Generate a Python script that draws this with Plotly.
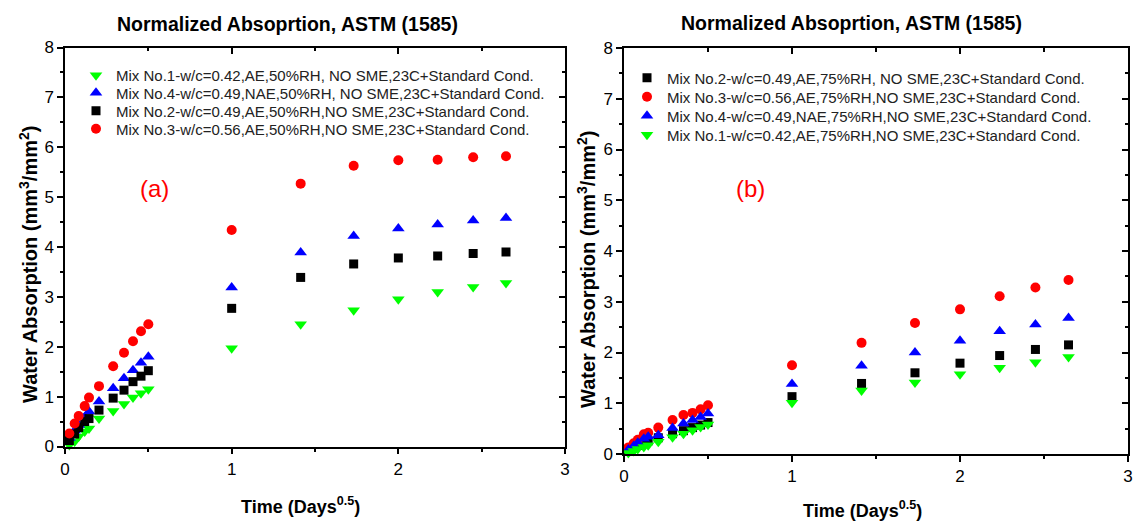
import plotly.graph_objects as go

W, H = 1133, 521

# time points (Days^0.5)
t_early = [0.026, 0.058, 0.082, 0.118, 0.144, 0.204, 0.289, 0.354, 0.408, 0.456, 0.5]
t_late = [1.0, 1.414, 1.732, 2.0, 2.236, 2.449, 2.646]
time_pts = t_early + t_late

# Panel (a) 50% RH
a_mix1 = [0.03, 0.10, 0.20, 0.30, 0.36, 0.56, 0.71, 0.85, 0.98, 1.07, 1.15, 1.97, 2.45, 2.73, 2.95, 3.10, 3.20, 3.28]
a_mix4 = [0.17, 0.32, 0.43, 0.58, 0.70, 0.90, 1.17, 1.37, 1.53, 1.68, 1.80, 3.19, 3.89, 4.22, 4.37, 4.45, 4.53, 4.58]
a_mix2 = [0.12, 0.25, 0.38, 0.50, 0.56, 0.73, 0.97, 1.13, 1.30, 1.41, 1.52, 2.77, 3.39, 3.66, 3.78, 3.82, 3.87, 3.90]
a_mix3 = [0.26, 0.46, 0.61, 0.81, 0.98, 1.21, 1.61, 1.88, 2.11, 2.31, 2.45, 4.34, 5.27, 5.63, 5.74, 5.75, 5.80, 5.82]

# Panel (b) 75% RH
b_mix2 = [0.07, 0.12, 0.17, 0.22, 0.26, 0.32, 0.40, 0.46, 0.52, 0.57, 0.62, 1.13, 1.39, 1.60, 1.79, 1.94, 2.06, 2.15]
b_mix3 = [0.13, 0.21, 0.28, 0.39, 0.42, 0.52, 0.67, 0.77, 0.81, 0.88, 0.96, 1.75, 2.19, 2.58, 2.85, 3.11, 3.28, 3.43]
b_mix4 = [0.09, 0.16, 0.22, 0.30, 0.34, 0.37, 0.51, 0.60, 0.67, 0.73, 0.80, 1.38, 1.74, 2.00, 2.23, 2.42, 2.55, 2.68]
b_mix1 = [0.02, 0.06, 0.10, 0.14, 0.17, 0.24, 0.33, 0.40, 0.47, 0.53, 0.58, 1.01, 1.25, 1.41, 1.57, 1.70, 1.81, 1.91]

names_a = [
    "Mix No.1-w/c=0.42,AE,50%RH, NO SME,23C+Standard Cond.",
    "Mix No.4-w/c=0.49,NAE,50%RH, NO SME,23C+Standard Cond.",
    "Mix No.2-w/c=0.49,AE,50%RH,NO SME,23C+Standard Cond.",
    "Mix No.3-w/c=0.56,AE,50%RH,NO SME,23C+Standard Cond.",
]
names_b = [
    "Mix No.2-w/c=0.49,AE,75%RH, NO SME,23C+Standard Cond.",
    "Mix No.3-w/c=0.56,AE,75%RH,NO SME,23C+Standard Cond.",
    "Mix No.4-w/c=0.49,NAE,75%RH,NO SME,23C+Standard Cond.",
    "Mix No.1-w/c=0.42,AE,75%RH,NO SME,23C+Standard Cond.",
]

title_text = "Normalized Absoprtion, ASTM (1585)"
x_ticks = [0, 1, 2, 3]
y_ticks = [0, 1, 2, 3, 4, 5, 6, 7, 8]

GREEN, BLUE, BLACK, RED = "#00FF00", "#0000FF", "#000000", "#FF0000"
FONT = "Liberation Sans, Arial, sans-serif"

# legend row centres (pixels from top)
legend_rows_a = [75.5, 93.0, 111.0, 129.0]
legend_rows_b = [78.0, 97.0, 116.0, 135.0]


def px_x(p):
    return p / W


def px_y(p):
    return 1 - p / H


def style(sym, color):
    sizes = {"triangle-down": 11, "triangle-up": 11, "square": 9, "circle": 10}
    return dict(symbol=sym, color=color, size=sizes[sym], line=dict(width=0))


fig = go.Figure()
legend_layout = {}
legend_font = dict(family=FONT, size=15, color="#222")


def legend_key(i):
    return "legend" if i == 1 else "legend%d" % i


series_a = [(a_mix1, "triangle-down", GREEN), (a_mix4, "triangle-up", BLUE),
            (a_mix2, "square", BLACK), (a_mix3, "circle", RED)]
series_b = [(b_mix2, "square", BLACK), (b_mix3, "circle", RED),
            (b_mix4, "triangle-up", BLUE), (b_mix1, "triangle-down", GREEN)]

k = 1
for (vals, sym, col), nm, row in zip(series_a, names_a, legend_rows_a):
    lk = legend_key(k)
    fig.add_trace(go.Scatter(x=time_pts, y=vals, mode="markers", name=nm,
                             marker=style(sym, col), xaxis="x", yaxis="y",
                             cliponaxis=False, legend=lk))
    legend_layout[lk] = dict(x=px_x(76), y=px_y(row), xanchor="left", yanchor="middle",
                             bgcolor="rgba(0,0,0,0)", font=legend_font, itemclick=False)
    k += 1

for (vals, sym, col), nm, row in zip(series_b, names_b, legend_rows_b):
    lk = legend_key(k)
    fig.add_trace(go.Scatter(x=time_pts, y=vals, mode="markers", name=nm,
                             marker=style(sym, col), xaxis="x2", yaxis="y2",
                             cliponaxis=False, legend=lk))
    legend_layout[lk] = dict(x=px_x(627), y=px_y(row), xanchor="left", yanchor="middle",
                             bgcolor="rgba(0,0,0,0)", font=legend_font, itemclick=False)
    k += 1

# dummy traces for mirrored (inward) tick axes
for xa, ya in [("x3", "y"), ("x", "y3"), ("x4", "y2"), ("x2", "y4")]:
    fig.add_trace(go.Scatter(x=[None], y=[None], xaxis=xa, yaxis=ya,
                             showlegend=False, hoverinfo="skip"))

dom_ax = [px_x(65), px_x(565)]
dom_ay = [px_y(446.5), px_y(47.5)]
dom_bx = [px_x(624), px_x(1128)]
dom_by = [px_y(454), px_y(48)]

tickfont = dict(family=FONT, size=17, color="black")


def main_axis(domain, anchor, rng, tickvals):
    return dict(domain=domain, anchor=anchor, range=rng, tickvals=tickvals,
                ticks="outside", ticklen=6, tickwidth=1.5, tickcolor="black",
                minor=dict(dtick=0.5, ticks="outside", ticklen=3.5, tickwidth=1.5,
                           tickcolor="black"),
                showline=True, linewidth=1.5, linecolor="black", mirror=True,
                showgrid=False, zeroline=False, tickfont=tickfont, fixedrange=True,
                automargin=False)


def mirror_axis(overlay, anchor, side, rng, tickvals):
    return dict(overlaying=overlay, anchor=anchor, side=side, range=rng,
                tickvals=tickvals, ticks="inside", ticklen=6, tickwidth=1.5,
                tickcolor="black", showticklabels=False, showline=False,
                minor=dict(dtick=0.5, ticks="inside", ticklen=3.5, tickwidth=1.5,
                           tickcolor="black"),
                showgrid=False, zeroline=False, automargin=False)


fig.update_layout(
    width=W, height=H,
    margin=dict(l=0, r=0, t=0, b=0, autoexpand=False),
    paper_bgcolor="white", plot_bgcolor="white",
    font=dict(family=FONT, color="black"),
    showlegend=True,
    xaxis=main_axis(dom_ax, "y", [0, 3], x_ticks),
    yaxis=main_axis(dom_ay, "x", [0, 8], y_ticks),
    xaxis2=main_axis(dom_bx, "y2", [0, 3], x_ticks),
    yaxis2=main_axis(dom_by, "x2", [0, 8], y_ticks),
    xaxis3=mirror_axis("x", "y", "top", [0, 3], x_ticks),
    yaxis3=mirror_axis("y", "x", "right", [0, 8], y_ticks),
    xaxis4=mirror_axis("x2", "y2", "top", [0, 3], x_ticks),
    yaxis4=mirror_axis("y2", "x2", "right", [0, 8], y_ticks),
    **legend_layout,
)

ann = []
ann.append(dict(x=px_x(287), y=px_y(24), text="<b>" + title_text + "</b>"))
ann.append(dict(x=px_x(852), y=px_y(23), text="<b>" + title_text + "</b>"))
for a in ann:
    a.update(xref="paper", yref="paper", showarrow=False, xanchor="center",
             yanchor="middle", font=dict(family=FONT, size=19.5, color="black"))

axis_titles = [
    dict(x=px_x(300), y=px_y(505), text="<b>Time (Days<sup>0.5</sup>)</b>", textangle=0, size=18),
    dict(x=px_x(862), y=px_y(509), text="<b>Time (Days<sup>0.5</sup>)</b>", textangle=0, size=18),
    dict(x=px_x(28), y=px_y(265), text="<b>Water Absorption (mm<sup>3</sup>/mm<sup>2</sup>)</b>", textangle=-90, size=20),
    dict(x=px_x(586), y=px_y(270), text="<b>Water Absorption (mm<sup>3</sup>/mm<sup>2</sup>)</b>", textangle=-90, size=20),
]
for a in axis_titles:
    sz = a.pop("size")
    a.update(xref="paper", yref="paper", showarrow=False, xanchor="center",
             yanchor="middle", font=dict(family=FONT, size=sz, color="black"))
ann += axis_titles

ann.append(dict(x=px_x(138), y=px_y(188), text="(a)", xref="paper", yref="paper",
                showarrow=False, font=dict(family=FONT, size=24, color=RED)))
ann.append(dict(x=px_x(750), y=px_y(188), text="(b)", xref="paper", yref="paper",
                showarrow=False, font=dict(family=FONT, size=24, color=RED)))

fig.update_layout(annotations=ann)

fig.write_html("out.html")
